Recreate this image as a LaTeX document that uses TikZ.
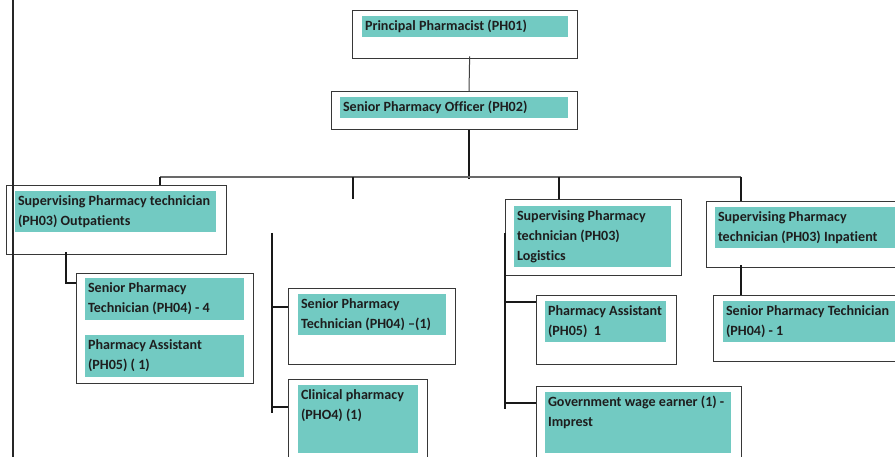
\documentclass[tikz,border=0pt]{standalone}
\usepackage{fontspec}
\setmainfont[Ligatures=NoCommon]{Carlito}
\usetikzlibrary{calc}

\definecolor{tealfill}{RGB}{114,202,194}
\definecolor{ink}{RGB}{30,30,30}
\definecolor{framegray}{RGB}{55,55,55}
\definecolor{busgray}{RGB}{105,105,105}

% a teal label block: width, height, text (lines split with \\)
\newcommand{\tealcell}[3]{\parbox[t][#2][t]{#1}{\raggedright\leftskip=2.8pt\strut #3}}

\begin{document}
\begin{tikzpicture}[x=1pt,y=-1pt,
  frame/.style={draw=framegray, line width=1.3pt, inner sep=0pt, anchor=north west},
  cellfill/.style={fill=tealfill, inner sep=0pt, anchor=north west, text=ink,
    font=\bfseries\fontsize{14.1}{20}\selectfont},
  link/.style={draw=black!90, line width=2.3pt},
  thinlink/.style={draw=black!75, line width=1pt},
  bus/.style={draw=busgray, line width=1.6pt}]
\useasboundingbox (0,0) rectangle (895,457);
\clip (0,0) rectangle (895,457);

% outer frames
\node[frame, minimum width=225pt, minimum height=48pt]  (A) at (352,10)  {};
\node[frame, minimum width=246pt, minimum height=38pt]  (B) at (331,91)  {};
\node[frame, minimum width=220pt, minimum height=69pt]  (C) at (6,185)   {};
\node[frame, minimum width=177pt, minimum height=110pt] (D) at (76,273)  {};
\node[frame, minimum width=167pt, minimum height=76pt]  (E) at (288,288) {};
\node[frame, minimum width=139pt, minimum height=100pt] (F) at (288,379) {};
\node[frame, minimum width=176pt, minimum height=76pt]  (G) at (505,199) {};
\node[frame, minimum width=140pt, minimum height=69pt]  (H) at (536,295) {};
\node[frame, minimum width=205pt, minimum height=100pt] (I) at (536,386) {};
\node[frame, minimum width=220pt, minimum height=66pt]  (J) at (706,201) {};
\node[frame, minimum width=220pt, minimum height=66pt]  (K) at (713,295) {};

% teal labels
\node[cellfill] (a)  at (362,16)  {\tealcell{206pt}{21pt}{Principal Pharmacist (PH01)}};
\node[cellfill] (b)  at (340,97)  {\tealcell{228pt}{21pt}{Senior Pharmacy Officer (PH02)}};
\node[cellfill] (c)  at (15,191)  {\tealcell{201pt}{41pt}{Supervising Pharmacy technician\\(PH03) Outpatients}};
\node[cellfill] (d1) at (85,278)  {\tealcell{159pt}{42pt}{Senior Pharmacy\\Technician (PH04) - 4}};
\node[cellfill] (d2) at (85,335)  {\tealcell{159pt}{42pt}{Pharmacy Assistant\\(PH05) ( 1)}};
\node[cellfill] (e)  at (298,294) {\tealcell{148pt}{41pt}{Senior Pharmacy\\Technician (PH04) –(1)}};
\node[cellfill] (f)  at (298,385) {\tealcell{120pt}{68pt}{Clinical pharmacy\\(PHO4) (1)}};
\node[cellfill] (g)  at (514,206) {\tealcell{157pt}{61pt}{Supervising Pharmacy\\technician (PH03)\\Logistics}};
\node[cellfill] (h)  at (545,301) {\tealcell{121pt}{41pt}{Pharmacy Assistant\\(PH05)~~1}};
\node[cellfill] (i)  at (545,392) {\tealcell{186pt}{61pt}{Government wage earner (1) -\\Imprest}};
\node[cellfill] (j)  at (715,207) {\tealcell{200pt}{41pt}{Supervising Pharmacy\\technician (PH03) Inpatient}};
\node[cellfill] (k)  at (723,301) {\tealcell{190pt}{41pt}{Senior Pharmacy Technician\\(PH04) - 1}};

% guide points of the connector network
\coordinate (edgeTop) at (13,0);
\coordinate (edgeBot) at (13,457);
\coordinate (trunk)   at (469,179);
\coordinate (busL)    at (160,177);
\coordinate (busR)    at (741,177);
\coordinate (busG)    at (559,177);
\coordinate (stub)    at (353,199);
\coordinate (midTop)  at (272,233);
\coordinate (midBot)  at (272,413);
\coordinate (logTop)  at (505,233);
\coordinate (logBot)  at (505,409);

% page rule on the left
\draw[black!85, line width=1.3pt] (edgeTop) -- (edgeBot);

% top of the tree
\draw[thinlink] ($(A.south)+(4.5,-3)$) -- (trunk |- B.north);
\draw[link] (trunk |- B.south) -- (trunk);
\draw[bus] (busL) -- (busR);
\draw[link] (busL) -- (busL |- C.north);
\draw[link] (stub |- busL) -- (stub);
\draw[link] (busG) -- (busG |- G.north);
\draw[link] (busR) -- (busR |- J.north);

% outpatients branch
\draw[link] ($(C.south west)+(60,-3)$) |- ($(D.north west)+(0,10)$);

% middle column
\draw[link] (midTop) -- (midBot);
\path ($(E.north west)+(0,19)$) coordinate (eJoin);
\path ($(F.north west)+(0,28)$) coordinate (fJoin);
\draw[link] (eJoin -| midTop) -- (eJoin);
\draw[link] (fJoin -| midTop) -- (fJoin);

% logistics branch
\draw[link] (logTop) -- (logBot);
\path ($(H.north west)+(0,7)$)  coordinate (hJoin);
\path ($(I.north west)+(0,17)$) coordinate (iJoin);
\draw[link] (hJoin -| logTop) -- (hJoin);
\draw[link] (iJoin -| logTop) -- (iJoin);

% inpatient branch
\draw[link] ($(busR |- J.south)+(0,-3)$) -- (busR |- K.north);
\end{tikzpicture}
\end{document}
